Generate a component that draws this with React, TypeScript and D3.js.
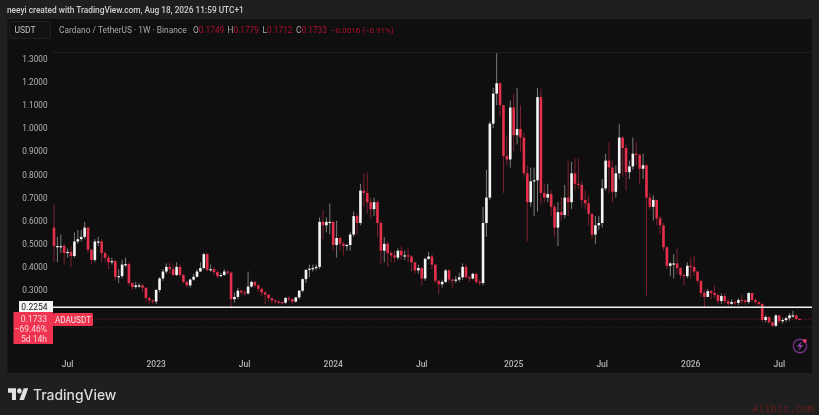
import React from "react";
import * as d3 from "d3";

const firstOpen = 0.57;
const closes = [
  .49,.49,.49,.46,.465,.447,.51,.52,.53,.57,
  .475,.43,.51,.51,.46,.44,.42,.425,.357,.36,
  .41,.412,.33,.313,.32,.32,.31,.265,.255,.25,
  .30,.35,.38,.40,.39,.365,.40,.365,.335,.32,
  .345,.357,.38,.395,.455,.387,.39,.378,.36,.365,
  .38,.375,.26,.27,.297,.29,.285,.315,.335,.32,
  .305,.29,.28,.265,.255,.25,.248,.245,.265,.26,
  .25,.268,.297,.347,.387,.392,.395,.40,.595,.58,
  .595,.595,.495,.525,.50,.49,.495,.54,.62,.59,
  .73,.72,.68,.65,.68,.59,.47,.50,.46,.45,
  .44,.47,.45,.45,.445,.42,.385,.395,.35,.435,
  .445,.41,.34,.325,.335,.385,.345,.34,.345,.355,
  .40,.355,.35,.37,.335,.33,.59,.70,1.02,1.15,
  1.195,1.10,.88,.865,1.09,.97,.997,.96,.805,.68,
  .77,.775,1.135,.72,.70,.715,.66,.57,.637,.625,
  .70,.68,.805,.76,.755,.69,.675,.63,.54,.58,
  .59,.74,.86,.83,.725,.805,.96,.915,.81,.835,
  .89,.885,.825,.84,.70,.66,.69,.61,.58,.485,
  .405,.415,.415,.395,.365,.36,.405,.40,.38,.34,
  .287,.27,.295,.287,.278,.252,.274,.252,.24,.248,
  .244,.257,.255,.248,.287,.257,.248,.24,.17,.183,
  .16,.145,.19,.165,.17,.178,.19,.19,.1749,.1733,
];
const highs = [
  .67,.53,.54,.50,.48,.49,.55,.56,.56,.595,
  .575,.47,.52,.53,.52,.47,.45,.44,.43,.39,
  .43,.44,.42,.335,.335,.33,.325,.31,.27,.26,
  .305,.355,.39,.415,.42,.41,.42,.41,.37,.34,
  .35,.37,.39,.42,.46,.46,.41,.40,.385,.375,
  .39,.385,.38,.29,.31,.30,.30,.38,.34,.34,
  .325,.31,.295,.28,.265,.26,.255,.25,.27,.275,
  .265,.27,.30,.35,.39,.41,.41,.41,.615,.645,
  .615,.675,.60,.60,.53,.51,.50,.55,.64,.63,
  .76,.805,.81,.70,.70,.69,.60,.53,.51,.47,
  .47,.48,.49,.47,.48,.45,.42,.41,.40,.44,
  .465,.455,.41,.345,.345,.39,.39,.35,.36,.375,
  .415,.41,.36,.375,.375,.345,.66,.82,1.03,1.175,
  1.325,1.20,1.10,.97,1.12,1.15,1.175,1.10,.98,.84,
  .83,.83,1.175,1.17,.76,.76,.73,.67,.68,.70,
  .755,.86,.855,.87,.87,.77,.73,.71,.63,.62,
  .62,.78,.89,.94,.86,.84,1.02,.965,.93,.86,
  .96,.94,.89,.89,.845,.72,.71,.69,.62,.59,
  .49,.42,.455,.48,.40,.37,.42,.44,.45,.38,
  .34,.30,.305,.30,.32,.285,.285,.285,.26,.26,
  .255,.265,.28,.26,.29,.29,.262,.25,.24,.19,
  .185,.165,.195,.19,.18,.185,.20,.21,.195,.1779,
];
const lows = [
  .42,.42,.46,.41,.44,.40,.44,.50,.51,.52,
  .46,.41,.42,.49,.42,.42,.39,.41,.34,.33,
  .35,.40,.32,.30,.305,.31,.29,.25,.24,.24,
  .24,.29,.34,.37,.37,.36,.36,.355,.33,.31,
  .31,.34,.355,.38,.39,.38,.38,.365,.35,.355,
  .36,.365,.22,.245,.26,.28,.275,.28,.31,.31,
  .29,.275,.24,.25,.245,.24,.24,.235,.24,.25,
  .24,.245,.26,.29,.33,.355,.38,.385,.39,.52,
  .55,.54,.47,.44,.47,.45,.47,.47,.53,.54,
  .58,.66,.63,.61,.62,.53,.41,.42,.40,.42,
  .42,.43,.43,.43,.42,.38,.37,.37,.32,.34,
  .43,.39,.33,.28,.31,.33,.33,.31,.33,.335,
  .345,.35,.335,.345,.325,.32,.32,.53,.69,1.00,
  1.10,1.05,.72,.84,.83,.90,.93,.90,.79,.51,
  .66,.62,.64,.67,.68,.68,.62,.53,.49,.60,
  .61,.62,.65,.73,.74,.66,.65,.58,.52,.50,
  .56,.57,.73,.72,.68,.70,.78,.79,.73,.78,
  .82,.84,.76,.78,.275,.65,.60,.58,.54,.47,
  .39,.36,.35,.37,.35,.32,.35,.35,.36,.33,
  .27,.225,.27,.26,.265,.24,.24,.24,.23,.235,
  .235,.235,.24,.235,.24,.245,.235,.23,.16,.16,
  .155,.14,.14,.155,.155,.16,.165,.18,.17,.1712,
];
const priceTicks = [1.3, 1.2, 1.1, 1.0, 0.9, 0.8, 0.7, 0.6, 0.5, 0.4, 0.3];
const timeTicks = [
  { week: 4, label: "Jul" }, { week: 30, label: "2023" }, { week: 56, label: "Jul" },
  { week: 82, label: "2024" }, { week: 108, label: "Jul" }, { week: 135, label: "2025" },
  { week: 161, label: "Jul" }, { week: 187, label: "2026" }, { week: 213, label: "Jul" },
];
const supportLevel = 0.2254;
const lastPrice = 0.1733;
const lowerLevel = 0.1385;
const ohlc = [
  { key: "O", value: "0.1749", x: 193 },
  { key: "H", value: "0.1779", x: 227.5 },
  { key: "L", value: "0.1712", x: 262.5 },
  { key: "C", value: "0.1733", x: 296 },
];

const FONT = "Roboto, 'Noto Sans', sans-serif";
const RED = "#e5304c";
const AXIS = "#b4b4b4";

export default function App() {
  const y = d3.scaleLinear().domain([0.3, 1.3]).range([290, 59]);
  const x = d3.scaleLinear().domain([0, 219]).range([54, 799.7]);
  const candles = closes.map((c, i) => {
    const o = i === 0 ? firstOpen : closes[i - 1];
    return { i, o, c, h: Math.max(highs[i], o, c), l: Math.min(lows[i], o, c), up: c >= o };
  });
  return (
    <svg width={819} height={415} viewBox="0 0 819 415"
      style={{ position: "absolute", left: 0, top: 0, display: "block", filter: "blur(0.4px)" }}
      fontFamily={FONT}>
      <rect width={819} height={415} fill="#1f1f1f" />
      <rect x={7.5} y={19} width={804.5} height={354} fill="#0f0f0f" />
      <line x1={52} x2={812} y1={52.5} y2={52.5} stroke="#1e1e1e" />
      <text x={7} y={13} fontSize={8.3} fill="#cfcfcf" fontWeight={500}>neeyi created with TradingView.com, Aug 18, 2026 11:59 UTC+1</text>

      <rect x={9.5} y={21.5} width={41} height={17} rx={2} fill="#121212" stroke="#222" />
      <text x={25} y={33} fontSize={8.5} fill="#c4c4c4" textAnchor="middle">USDT</text>
      <text x={59} y={32.5} fontSize={8.4} fill="#a8a8a8">Cardano / TetherUS · 1W · Binance</text>
      {ohlc.map(d => (
        <text key={d.key} x={d.x} y={32.5} fontSize={8.3} fill="#b30f2f">
          <tspan fill="#a8a8a8">{d.key}</tspan>{d.value}
        </text>
      ))}
      <text x={331} y={32.5} fontSize={8} fill="#b30f2f">−0.0016 (−0.91%)</text>

      {priceTicks.map(t => (
        <text key={t} x={47.5} y={y(t) + 3} fontSize={8.2} fill={AXIS} textAnchor="end">{t.toFixed(4)}</text>
      ))}
      {timeTicks.map(t => (
        <text key={t.label + t.week} x={x(t.week)} y={367} fontSize={8.5} fill={AXIS} fontWeight={500} textAnchor="middle">{t.label}</text>
      ))}

      <line x1={52} x2={812} y1={y(lastPrice)} y2={y(lastPrice)} stroke="#6b1522" strokeDasharray="1 1" />
      <line x1={52} x2={812} y1={y(lowerLevel)} y2={y(lowerLevel)} stroke="#2c2c2c" strokeDasharray="1 2" />

      {candles.map(d => (
        <line key={d.i} x1={x(d.i)} x2={x(d.i)} y1={y(d.h)} y2={y(d.l)}
          stroke={d.up ? "#7c7c7c" : "#7d2030"} strokeWidth={1} />
      ))}
      {candles.map(d => {
        const top = y(Math.max(d.o, d.c));
        const h = Math.max(1.2, Math.abs(y(d.o) - y(d.c)));
        return <rect key={d.i} x={x(d.i) - 1.3} y={top} width={2.6} height={h} fill={d.up ? "#f6f6f6" : RED} />;
      })}

      <line x1={52} x2={812} y1={y(supportLevel)} y2={y(supportLevel)} stroke="#f2f2f2" strokeWidth={1.7} />
      <rect x={19} y={301} width={34} height={11} fill="#f5f5f5" />
      <text x={47.5} y={310} fontSize={8.5} fill="#222" textAnchor="end">{supportLevel.toFixed(4)}</text>
      <rect x={13.5} y={312} width={39.5} height={32} fill="#ef3350" />
      <text x={47} y={322} fontSize={8.5} fill="#f7d9dd" textAnchor="end">{lastPrice.toFixed(4)}</text>
      <text x={47} y={332} fontSize={8.5} fill="#f7d9dd" textAnchor="end">−69.46%</text>
      <text x={47} y={342} fontSize={8.5} fill="#f7d9dd" textAnchor="end">5d 14h</text>
      <rect x={53} y={313} width={40} height={13} rx={1.5} fill="#ef3350" />
      <text x={73} y={322.7} fontSize={8.2} fill="#f7e3e5" textAnchor="middle">ADAUSDT</text>

      <circle cx={800} cy={346} r={6.7} fill="none" stroke="#6d3189" strokeWidth={1.4} />
      <path d="M801.5 341 L796.8 346.8 L799.8 346.8 L798.6 351 L803.2 345 L800.3 345 Z" fill="#8a3fa8" />
      <circle cx={804.8} cy={340.8} r={1.9} fill="#ef3f6e" />

      <g transform="translate(8 385.5) scale(0.57 0.66)" fill="#e2e2e2">
        <path d="M14 22H7V11H0V4h14v18zM28 22h-8l7.5-18h8L28 22z" />
        <circle cx={20} cy={8} r={4} />
      </g>
      <text x={33} y={399.5} fontSize={13.9} fontWeight={500} fill="#dcdcdc" fontFamily="Inter, Roboto, sans-serif">TradingView</text>
      <text x={752} y={412} fontSize={10.5} fill="#6a1c1e" fontFamily="'Liberation Mono', monospace" letterSpacing={-0.1}>Alibtc.com</text>
    </svg>
  );
}
